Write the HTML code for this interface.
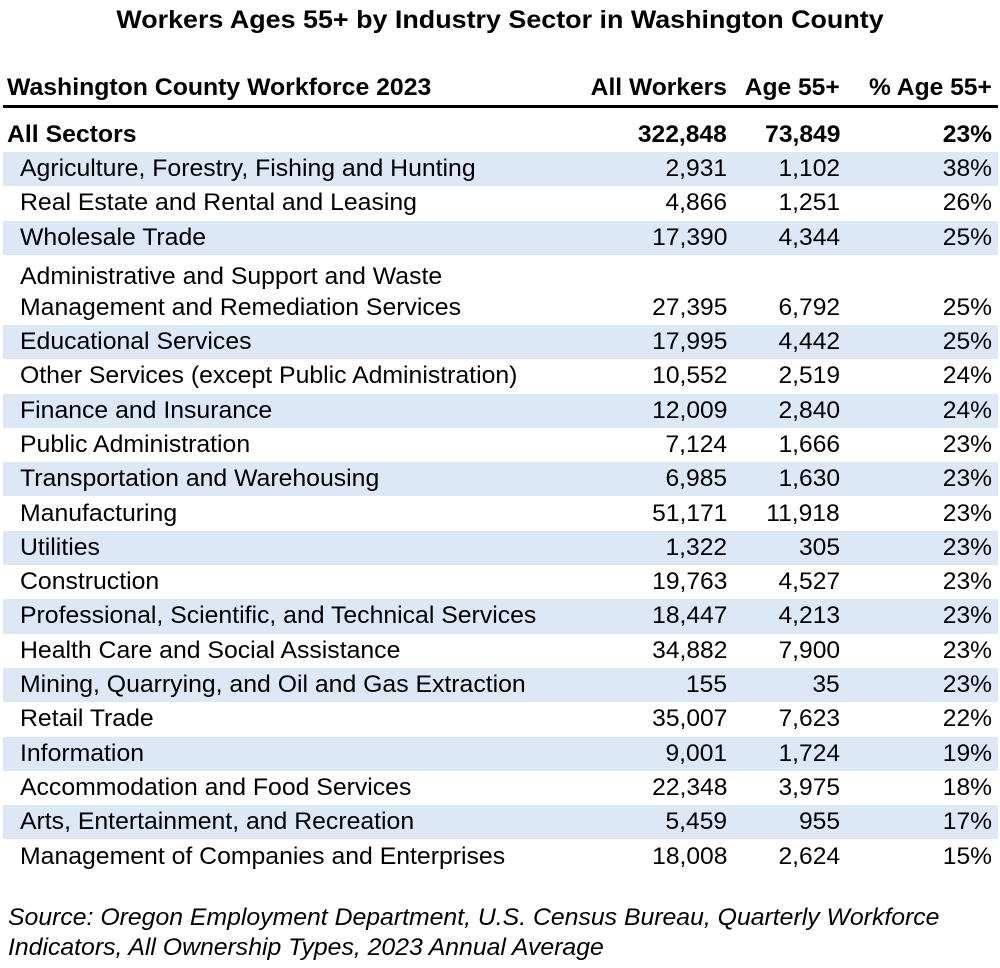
<!DOCTYPE html>
<html><head><style>
body{margin:0;width:1000px;height:968px;background:#fff;font-family:"Liberation Sans",Arial,sans-serif;color:#000;position:relative;overflow:hidden}
.t{position:absolute;left:0;width:1000px;text-align:center;top:6px;font-size:25px;font-weight:bold;transform:scaleX(1.075);transform-origin:center}
.r{position:absolute;left:3px;width:995px;height:34.3px;line-height:33px;font-size:24px}
.b{background:#dce8f6}
.r span{position:absolute;top:0;white-space:nowrap;transform:scaleX(1.033);transform-origin:left}
.r span.c1,.r span.c2,.r span.c3{transform:scaleX(1.025);transform-origin:right}
.n{left:17px}
.c1{right:271px}.c2{right:158px}.c3{right:6px}
.h{font-weight:bold}
.src{position:absolute;left:8px;top:903px;font-size:24px;font-style:italic;line-height:30px;white-space:nowrap;transform:scaleX(1.033);transform-origin:left}
</style></head><body>
<div class="t">Workers Ages 55+ by Industry Sector in Washington County</div>
<div class="r h" style="top:71px"><span style="left:4px">Washington County Workforce 2023</span><span class="c1">All Workers</span><span class="c2">Age 55+</span><span class="c3">% Age 55+</span></div>
<div style="position:absolute;left:3px;width:995px;top:105px;height:3px;background:#000"></div>
<div class="r h" style="top:118px"><span style="left:4px">All Sectors</span><span class="c1">322,848</span><span class="c2">73,849</span><span class="c3">23%</span></div>
<div class="r b" style="top:152px"><span class="n">Agriculture, Forestry, Fishing and Hunting</span><span class="c1">2,931</span><span class="c2">1,102</span><span class="c3">38%</span></div>
<div class="r" style="top:186.3px"><span class="n">Real Estate and Rental and Leasing</span><span class="c1">4,866</span><span class="c2">1,251</span><span class="c3">26%</span></div>
<div class="r b" style="top:220.6px"><span class="n">Wholesale Trade</span><span class="c1">17,390</span><span class="c2">4,344</span><span class="c3">25%</span></div>
<div class="r" style="top:255px;height:70px"><span class="n" style="top:5px">Administrative and Support and Waste</span><span class="n" style="top:36px">Management and Remediation Services</span><span class="c1" style="top:36px">27,395</span><span class="c2" style="top:36px">6,792</span><span class="c3" style="top:36px">25%</span></div>
<div class="r b" style="top:325px"><span class="n">Educational Services</span><span class="c1">17,995</span><span class="c2">4,442</span><span class="c3">25%</span></div>
<div class="r" style="top:359.3px"><span class="n">Other Services (except Public Administration)</span><span class="c1">10,552</span><span class="c2">2,519</span><span class="c3">24%</span></div>
<div class="r b" style="top:393.6px"><span class="n">Finance and Insurance</span><span class="c1">12,009</span><span class="c2">2,840</span><span class="c3">24%</span></div>
<div class="r" style="top:427.9px"><span class="n">Public Administration</span><span class="c1">7,124</span><span class="c2">1,666</span><span class="c3">23%</span></div>
<div class="r b" style="top:462.2px"><span class="n">Transportation and Warehousing</span><span class="c1">6,985</span><span class="c2">1,630</span><span class="c3">23%</span></div>
<div class="r" style="top:496.5px"><span class="n">Manufacturing</span><span class="c1">51,171</span><span class="c2">11,918</span><span class="c3">23%</span></div>
<div class="r b" style="top:530.8px"><span class="n">Utilities</span><span class="c1">1,322</span><span class="c2">305</span><span class="c3">23%</span></div>
<div class="r" style="top:565.1px"><span class="n">Construction</span><span class="c1">19,763</span><span class="c2">4,527</span><span class="c3">23%</span></div>
<div class="r b" style="top:599.4px"><span class="n">Professional, Scientific, and Technical Services</span><span class="c1">18,447</span><span class="c2">4,213</span><span class="c3">23%</span></div>
<div class="r" style="top:633.7px"><span class="n">Health Care and Social Assistance</span><span class="c1">34,882</span><span class="c2">7,900</span><span class="c3">23%</span></div>
<div class="r b" style="top:668px"><span class="n">Mining, Quarrying, and Oil and Gas Extraction</span><span class="c1">155</span><span class="c2">35</span><span class="c3">23%</span></div>
<div class="r" style="top:702.3px"><span class="n">Retail Trade</span><span class="c1">35,007</span><span class="c2">7,623</span><span class="c3">22%</span></div>
<div class="r b" style="top:736.6px"><span class="n">Information</span><span class="c1">9,001</span><span class="c2">1,724</span><span class="c3">19%</span></div>
<div class="r" style="top:770.9px"><span class="n">Accommodation and Food Services</span><span class="c1">22,348</span><span class="c2">3,975</span><span class="c3">18%</span></div>
<div class="r b" style="top:805.2px"><span class="n">Arts, Entertainment, and Recreation</span><span class="c1">5,459</span><span class="c2">955</span><span class="c3">17%</span></div>
<div class="r" style="top:839.5px"><span class="n">Management of Companies and Enterprises</span><span class="c1">18,008</span><span class="c2">2,624</span><span class="c3">15%</span></div>
<div class="src">Source: Oregon Employment Department, U.S. Census Bureau, Quarterly Workforce<br>Indicators, All Ownership Types, 2023 Annual Average</div>
</body></html>
